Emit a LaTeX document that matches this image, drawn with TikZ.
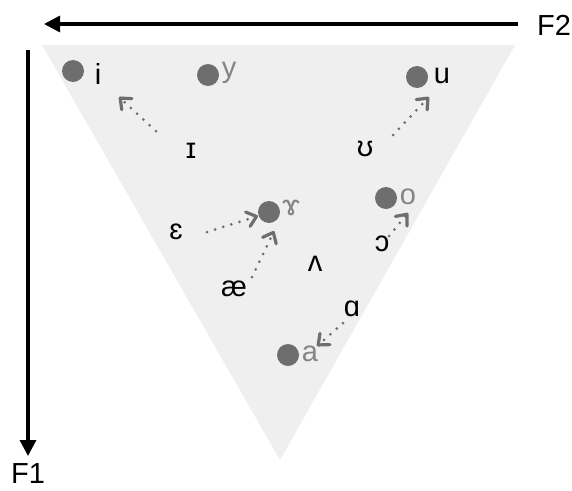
\documentclass[tikz,border=0pt]{standalone}
\usepackage{fontspec}
\setmainfont{Liberation Sans}
\usetikzlibrary{arrows.meta}
\definecolor{tri}{HTML}{EFEFEF}
\definecolor{dotc}{HTML}{6E6E6E}
\definecolor{lblg}{HTML}{858585}
\begin{document}
\begin{tikzpicture}[x=1pt,y=-1pt,
  lbl/.style={inner sep=0pt,font=\fontsize{29}{32}\selectfont,text=black},
  glbl/.style={lbl,text=lblg},
  vdot/.style={circle,fill=dotc,minimum size=22pt,inner sep=0pt},
  vshift/.style={draw=dotc,line width=3pt,line cap=round,dash pattern=on 0pt off 8.5pt,
     -{Straight Barb[length=9pt,width=15pt,line width=3.2pt,line cap=round,line join=round]}},
  axis/.style={line width=3.2pt,-{Triangle[length=16pt,width=16pt]}}]
\useasboundingbox (0,0) rectangle (572,490);
\fill[tri] (42,45) -- (515,45) -- (280,460) -- cycle;
% axes
\coordinate (f2s) at (518,24);
\coordinate (f2e) at (44,24);
\coordinate (f1s) at (28,50);
\coordinate (f1e) at (28,456);
\draw[axis] (f2s) -- (f2e);
\draw[axis] (f1s) -- (f1e);
\node[lbl] (F2) at (554,25) {F2};
\node[lbl] (F1) at (28,474) {F1};
% dots
\node[vdot] (di) at (73,71) {};
\node[lbl] (li) at (98,74) {i};
\node[vdot] (dy) at (208,75) {};
\node[glbl] (ly) at (229,73) {y};
\node[vdot] (du) at (417,77) {};
\node[lbl] (lu) at (442,76) {u};
\node[vdot] (dr) at (269,212) {};
\node[glbl] (lr) at (291,208) {ɤ};
\node[vdot] (do) at (386,198) {};
\node[glbl] (lo) at (408,197) {o};
\node[vdot] (da) at (288,355) {};
\node[glbl] (la) at (310,354) {a};
% other vowels
\node[lbl] (I) at (191,151) {ɪ};
\node[lbl] (U) at (365,149) {ʊ};
\node[lbl] (E) at (176,232) {ɛ};
\node[lbl] (O) at (382,244) {ɔ};
\node[lbl] (V) at (315,264) {ʌ};
\node[lbl] (AE) at (234,289) {æ};
\node[lbl] (A) at (352,309) {ɑ};
% arrows
\coordinate (s1) at (156,131);
\coordinate (e1) at (119,97);
\draw[vshift] (s1) -- (e1);
\coordinate (s2) at (393,135);
\coordinate (e2) at (429,97);
\draw[vshift] (s2) -- (e2);
\coordinate (s3) at (207,232);
\coordinate (e3) at (258,216);
\draw[vshift] (s3) -- (e3);
\coordinate (s4) at (252,277);
\coordinate (e4) at (274,231);
\draw[vshift] (s4) -- (e4);
\coordinate (s5) at (389,236);
\coordinate (e5) at (408,213);
\draw[vshift] (s5) -- (e5);
\coordinate (s6) at (343,323);
\coordinate (e6) at (317,346);
\draw[vshift] (s6) -- (e6);
\end{tikzpicture}
\end{document}
